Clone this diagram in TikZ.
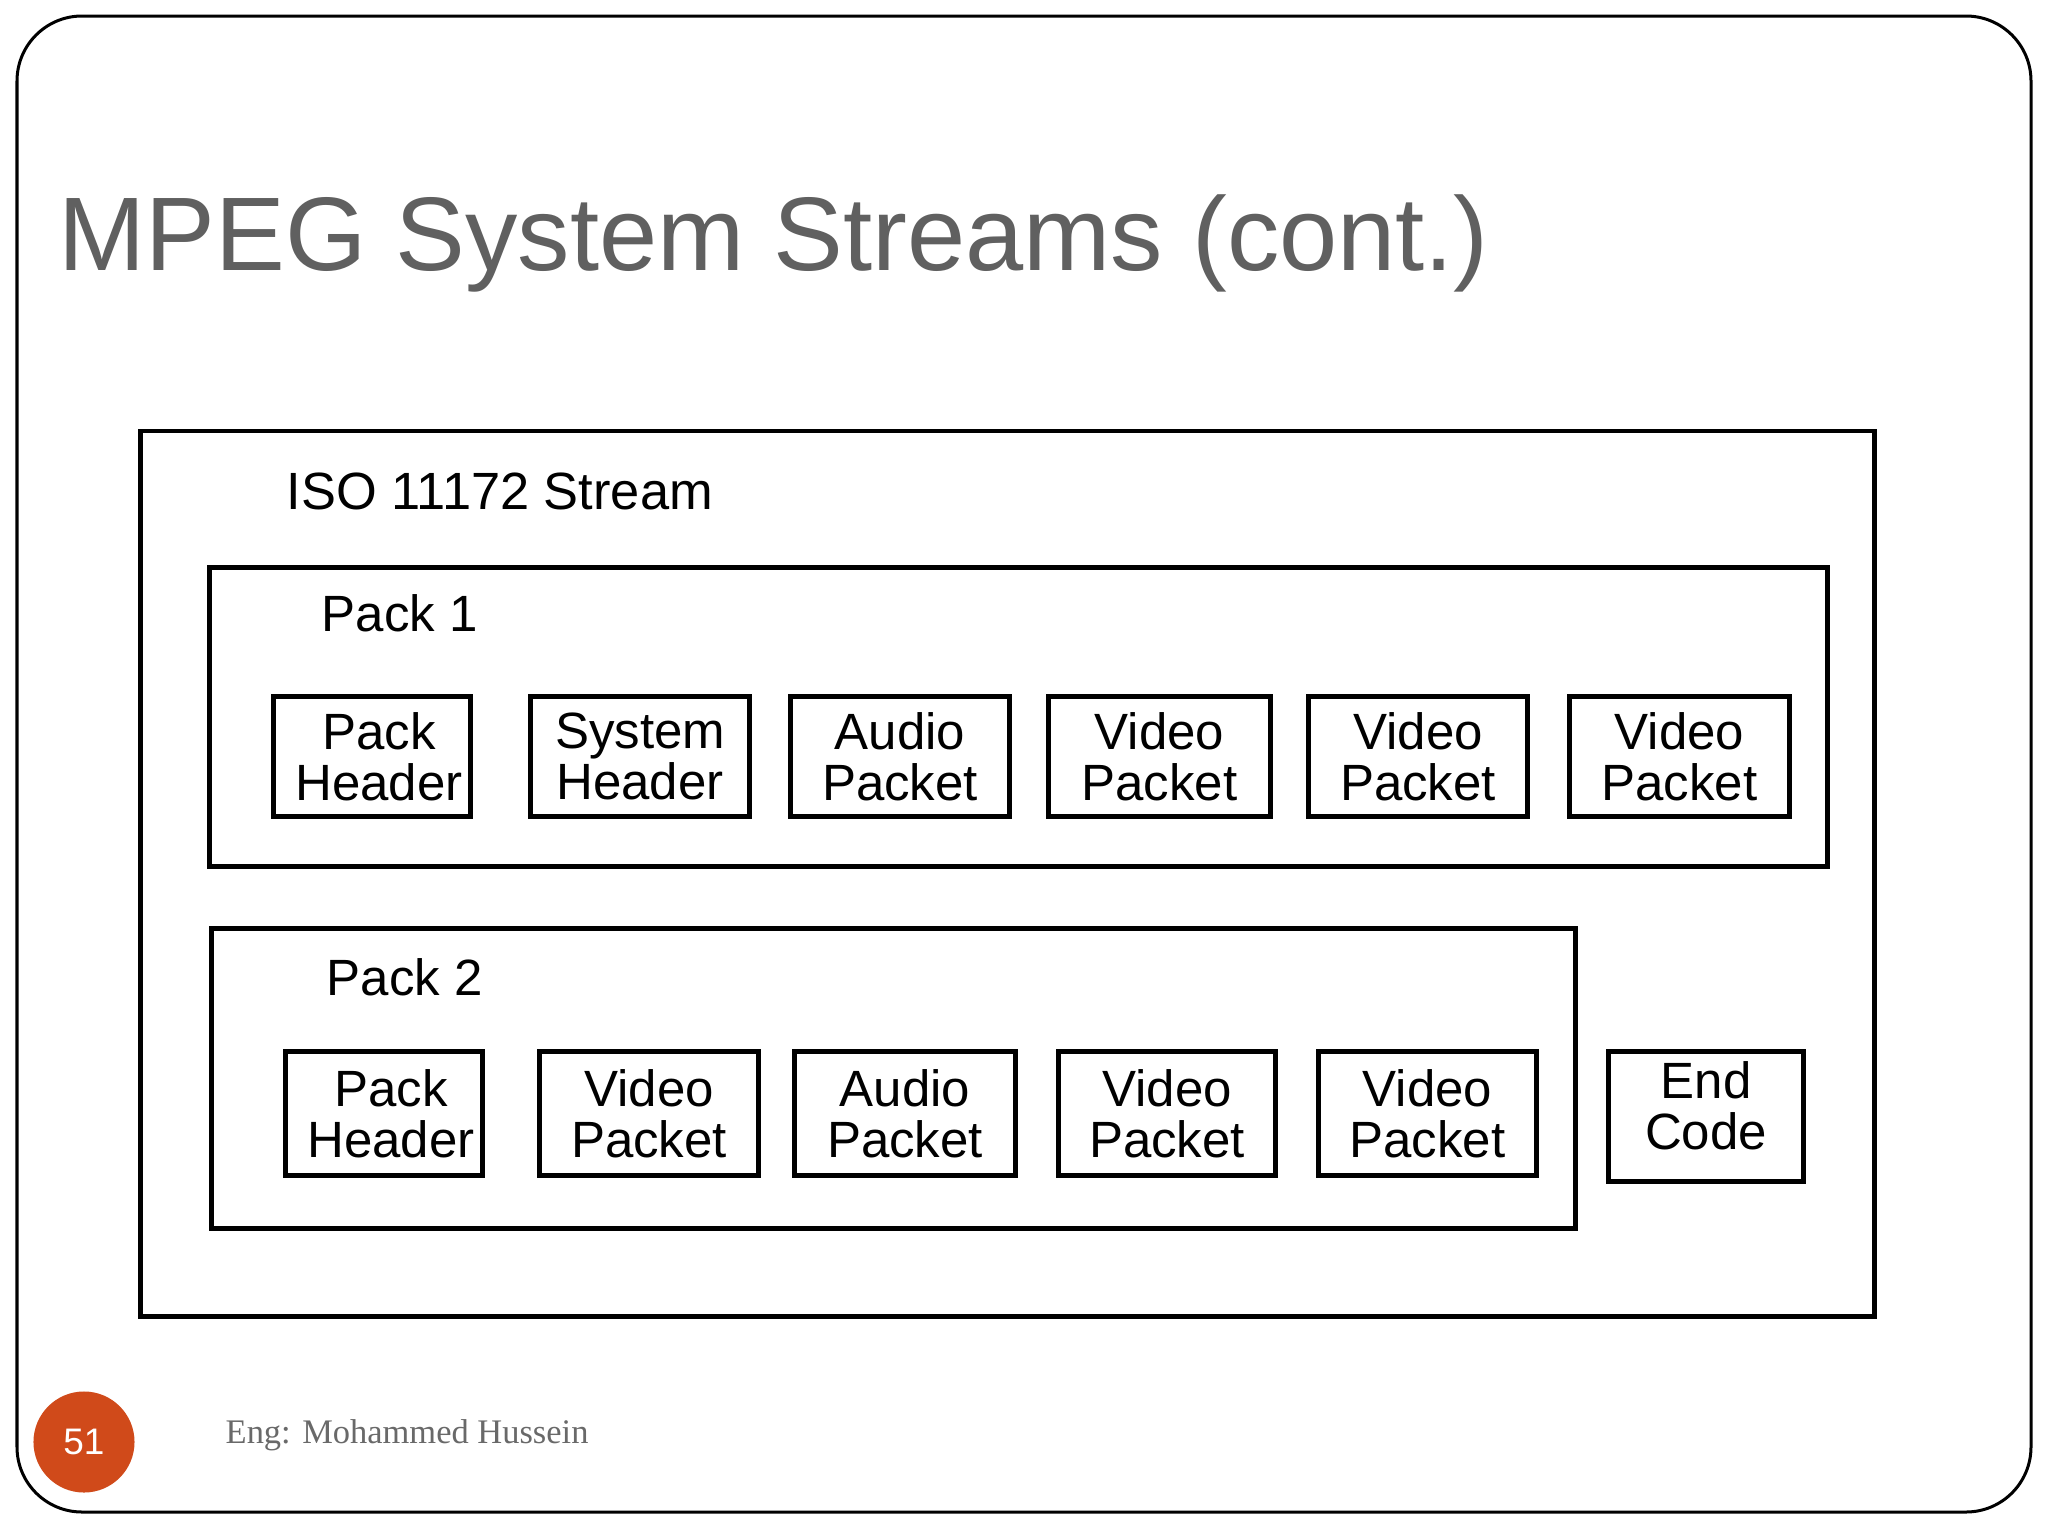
\documentclass[tikz,border=0pt]{standalone}
\usepackage{fontspec}
\setmainfont{Liberation Sans}
\newfontfamily\footserif{Liberation Serif}
\definecolor{titlegray}{RGB}{96,96,96}
\definecolor{footgray}{RGB}{105,105,105}
\definecolor{badge}{RGB}{208,74,26}
\begin{document}
\begin{tikzpicture}[x=0.01cm,y=-0.01cm,
  slide/.style={draw=black, line width=0.03cm, rounded corners=0.65cm},
  framebox/.style={draw, line width=0.045cm, inner sep=0, outer sep=0},
  pbox/.style={draw, line width=0.05cm, inner sep=0, outer sep=0, align=center,
    font=\fontsize{14.5}{14.5}\selectfont},
  lbl/.style={anchor=base west, inner sep=0, font=\fontsize{14.5}{14.5}\selectfont},
]
\useasboundingbox[fill=white] (0,0) rectangle (2048,1536);
\draw[slide] (17,16) rectangle (2031,1512);

\node[anchor=base west, inner sep=0, text=titlegray,
  font=\fontsize{29.75}{30}\selectfont] (title) at (58,270) {MPEG System Streams (cont.)};

% outer stream and packs
\node[framebox, minimum width=17.33cm, minimum height=8.85cm] (iso) at (1007.5,873.5) {};
\node[lbl, font=\fontsize{14.9}{14.9}\selectfont] (isol) at (286,509) {ISO 11172 Stream};

\node[framebox, line width=0.05cm, minimum width=16.17cm, minimum height=2.98cm] (pack1) at (1018.5,717) {};
\node[lbl] (pack1l) at (321,631) {Pack 1};

\node[framebox, line width=0.05cm, minimum width=13.63cm, minimum height=2.99cm] (pack2) at (893.5,1078.5) {};
\node[lbl] (pack2l) at (326,995) {Pack 2};

% pack 1 contents
\node[pbox, minimum width=1.96cm, minimum height=1.19cm] (ph1) at (372,756.5) {\hspace*{0.14cm}Pack\\\hspace*{0.14cm}Header};
\node[pbox, minimum width=2.18cm, minimum height=1.19cm] (sh1) at (640,756.5) {System\\Header};
\node[pbox, minimum width=2.18cm, minimum height=1.19cm] (ap1) at (900,756.5) {Audio\\Packet};
\node[pbox, minimum width=2.21cm, minimum height=1.19cm] (vp1) at (1159.5,756.5) {Video\\Packet};
\node[pbox, minimum width=2.18cm, minimum height=1.19cm] (vp2) at (1418,756.5) {Video\\Packet};
\node[pbox, minimum width=2.19cm, minimum height=1.19cm] (vp3) at (1679.5,756.5) {Video\\Packet};

% pack 2 contents
\node[pbox, minimum width=1.96cm, minimum height=1.23cm] (ph2) at (384,1113.5) {\hspace*{0.14cm}Pack\\\hspace*{0.14cm}Header};
\node[pbox, minimum width=2.18cm, minimum height=1.23cm] (vp4) at (649,1113.5) {Video\\Packet};
\node[pbox, minimum width=2.20cm, minimum height=1.23cm] (ap2) at (905,1113.5) {Audio\\Packet};
\node[pbox, minimum width=2.16cm, minimum height=1.23cm] (vp5) at (1167,1113.5) {Video\\Packet};
\node[pbox, minimum width=2.17cm, minimum height=1.23cm] (vp6) at (1427.5,1113.5) {Video\\Packet};

% end code
\node[pbox, minimum width=1.94cm, minimum height=1.29cm] (endc) at (1706,1116.5) {};
\node[inner sep=0, align=center, font=\fontsize{14.5}{14.5}\selectfont] (endt) at (1706,1106) {End\\Code};

% footer
\node[circle, fill=badge, minimum size=1.01cm, inner sep=0, text=white,
  font=\fontsize{10.5}{10.5}\selectfont] (num) at (84,1442) {51};
\node[anchor=base west, inner sep=0, text=footgray,
  font=\footserif\fontsize{9.8}{10}\selectfont] (foot) at (225,1443) {Eng: Mohammed Hussein};
\end{tikzpicture}
\end{document}
